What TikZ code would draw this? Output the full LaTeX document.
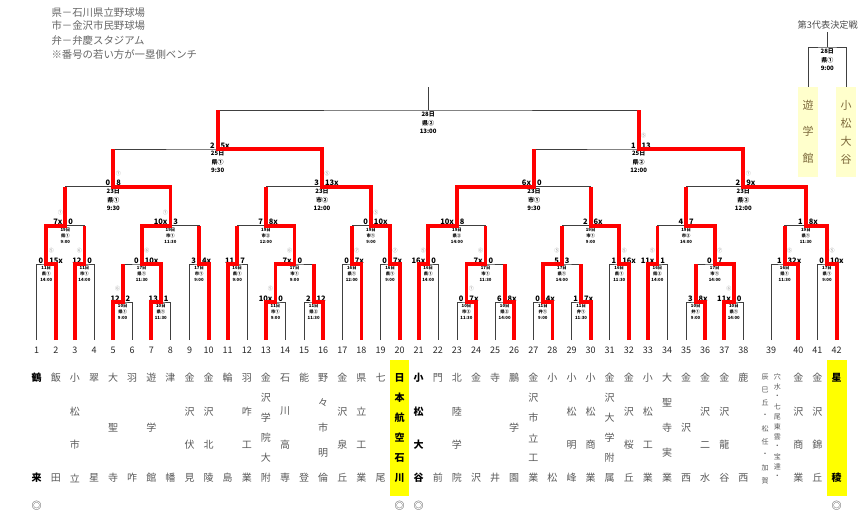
\documentclass[tikz,border=0pt]{standalone}
\usepackage{fontspec}
\setmainfont{Noto Sans CJK JP}
\usetikzlibrary{calc}
\definecolor{hl}{RGB}{255,255,0}
\definecolor{pale}{RGB}{255,255,204}
\definecolor{khaki}{RGB}{125,105,60}

% score of a match: centre, left, right, innings mark, shift of the mark
\newcommand\matchres[5]{%
  \node[score,anchor=south east] (#1-l) at ([xshift=-2.2pt]#1) {#2};
  \node[score,anchor=south west] (#1-r) at ([xshift=2.2pt]#1) {#3};
  \node[inn] (#1-i) at ([xshift=#5pt,yshift=13pt]#1) {#4};}
% team name written downwards under its number
\newcommand\tname[4][nm]{%
  \foreach \ch [count=\k from 0] in {#4}
    \node[#1] (nm#2-\k) at ($(t#2)+(0,{38+100*\k/(#3-1)})$) {\ch};}

\begin{document}
\begin{tikzpicture}[x=1pt,y=-1pt,
    ln/.style={black!75,line width=0.6pt},
    win/.style={red,line width=3.8pt},
    score/.style={font=\fontsize{7.5}{8}\selectfont\bfseries,inner sep=0.6pt},
    inn/.style={font=\fontsize{5}{5}\selectfont,text=black!45,inner sep=0pt},
    info/.style={anchor=north,align=center,inner sep=0pt,
        font=\fontsize{4.3}{6}\selectfont\bfseries},
    infob/.style={anchor=north,align=center,inner sep=0pt,
        font=\fontsize{6}{8.4}\selectfont\bfseries},
    num/.style={font=\fontsize{9}{9}\selectfont,text=black!85},
    nm/.style={font=\fontsize{10}{10}\selectfont,text=black!65},
    nmb/.style={font=\fontsize{10}{10}\selectfont\bfseries,text=black},
    head/.style={anchor=west,font=\fontsize{10.4}{12}\selectfont,text=black!60},
    rep/.style={font=\fontsize{11}{11}\selectfont,text=khaki}]
\useasboundingbox (0,0) rectangle (860,517);

% legend
\node[head] (h1) at (48,12.7) {県－石川県立野球場};
\node[head] (h2) at (48,26) {市－金沢市民野球場};
\node[head] (h3) at (48,40.7) {弁－弁慶スタジアム};
\node[head] (h4) at (48,54.7) {※番号の若い方が一塁側ベンチ};

% teams
\foreach \i in {1,...,38} \coordinate (t\i) at ({36.7+19.1*(\i-1)},340);
\coordinate (t39) at (771,340);
\coordinate (t40) at (798.3,340);
\coordinate (t41) at (817.3,340);
\coordinate (t42) at (836.7,340);

% match centres
\foreach \mc/\x in {a56/122.65,a78/160.85,a1314/275.45,a1516/313.65,a2324/466.45,
    a2526/504.65,a2728/542.85,a2930/581.05,a3536/695.65,a3738/733.85}
  \coordinate (\mc) at (\x,302);
\foreach \mc/\x in {b12/46.25,b34/84.45,b58/141.75,b910/199.05,b1112/237.25,
    b1316/294.55,b1718/351.85,b1920/390.05,b2122/428.25,b2326/485.55,b2730/561.95,
    b3132/619.25,b3334/657.45,b3538/714.75,b3940/784.65,b4142/827}
  \coordinate (\mc) at (\x,264);
\foreach \mc/\x in {c14/65.35,c510/170.4,c1116/265.9,c1720/370.95,c2126/456.9,
    c2732/590.6,c3338/686.1,c3942/805.8}
  \coordinate (\mc) at (\x,225.7);
\foreach \mc/\x in {d110/113.3,d1120/322,d2132/534,d3342/743.3}
  \coordinate (\mc) at (\x,186.7);
\coordinate (e120) at (217.65,149);
\coordinate (e2142) at (638.65,149);
\coordinate (f) at (428.15,110);
\coordinate (ftop) at (428.15,87);

% yellow marks
\fill[hl] (390,360) rectangle (409.3,496);
\fill[hl] (827.3,360) rectangle (846.7,496);

% bracket
\foreach \l/\mc/\r in {t5/a56/t6,t7/a78/t8,t13/a1314/t14,t15/a1516/t16,
    t23/a2324/t24,t25/a2526/t26,t27/a2728/t28,t29/a2930/t30,t35/a3536/t36,
    t37/a3738/t38,
    t1/b12/t2,t3/b34/t4,a56/b58/a78,t9/b910/t10,t11/b1112/t12,a1314/b1316/a1516,
    t17/b1718/t18,t19/b1920/t20,t21/b2122/t22,a2324/b2326/a2526,a2728/b2730/a2930,
    t31/b3132/t32,t33/b3334/t34,a3536/b3538/a3738,t39/b3940/t40,t41/b4142/t42,
    b12/c14/b34,b58/c510/b910,b1112/c1116/b1316,b1718/c1720/b1920,
    b2122/c2126/b2326,b2730/c2732/b3132,b3334/c3338/b3538,b3940/c3942/b4142,
    c14/d110/c510,c1116/d1120/c1720,c2126/d2132/c2732,c3338/d3342/c3942,
    d110/e120/d1120,d2132/e2142/d3342,e120/f/e2142}
  \draw[ln] (\l) |- (\mc) -| (\r);
\draw[ln] (f) -- (ftop);

% scores and dates
\foreach \mc/\lsc/\rsc/\ino/\sh/\txt in {
    a56/12/2/⑥/-5/{10日\\県①\\9:00}, a78/13/1//-5/{10日\\県①\\11:30},
    a1314/10x/0/⑤/-5/{11日\\市①\\9:00}, a1516/2/12//5/{11日\\県②\\11:30},
    a2324/0/7x/⑦/5/{10日\\市②\\11:30}, a2526/6/8x//5/{10日\\県②\\14:00},
    a2728/0/4x//5/{11日\\弁①\\9:00}, a2930/1/7x//5/{11日\\弁①\\11:30},
    a3536/3/8x//5/{10日\\弁①\\9:00}, a3738/11x/0/⑥/-5/{10日\\県①\\14:00},
    b12/0/15x/⑤/5/{11日\\県①\\14:00}, b34/12/0/⑥/-5/{11日\\市①\\14:00},
    b58/0/10x/⑥/5/{17日\\県①\\11:30}, b910/3/4x//5/{17日\\市①\\9:00},
    b1112/11/7//-5/{16日\\県①\\9:00}, b1316/7x/0/⑥/-5/{17日\\市①\\9:00},
    b1718/0/7x/⑦/5/{16日\\県①\\12:00}, b1920/0/7x/⑦/5/{16日\\県①\\9:00},
    b2122/16x/0/⑤/-5/{16日\\県①\\14:00}, b2326/7x/0/⑥/-5/{17日\\市①\\11:30},
    b2730/5/3/⑤/-5/{17日\\県①\\14:00}, b3132/1/16x/⑤/5/{16日\\県①\\11:30},
    b3334/11x/1/⑤/-5/{16日\\県②\\14:00}, b3538/0/7/⑦/5/{17日\\市①\\14:00},
    b3940/1/32x/⑤/5/{16日\\県①\\11:30}, b4142/0/10x/⑤/5/{17日\\県①\\9:00},
    c14/7x/0/⑦/-5/{19日\\県①\\9:00}, c510/10x/3/⑦/-5/{19日\\市①\\11:30},
    c1116/7/8x//5/{19日\\市②\\12:00}, c1720/0/10x/⑤/5/{19日\\市①\\9:00},
    c2126/10x/8//-5/{19日\\県②\\14:00}, c2732/2/6x//5/{19日\\市①\\9:00},
    c3338/4/7//5/{19日\\市②\\14:00}, c3942/1/8x//5/{19日\\県①\\11:30}}
  {\matchres{\mc}{\lsc}{\rsc}{\ino}{\sh}
   \node[info] (\mc-t) at ([yshift=-2pt]\mc) {\txt};}
\foreach \mc/\lsc/\rsc/\ino/\sh/\txt in {
    d110/0/8/⑦/5/{23日\\県①\\9:30}, d1120/3/13x/⑤/5/{23日\\市②\\12:00},
    d2132/6x/0//-5/{23日\\市①\\9:30}, d3342/2/9x/⑦/5/{23日\\県②\\12:00},
    e120/2/5x//5/{25日\\県①\\9:30}, e2142/1/13/⑤/5/{25日\\県②\\12:00}}
  {\matchres{\mc}{\lsc}{\rsc}{\ino}{\sh}
   \node[infob] (\mc-t) at ([yshift=-2pt]\mc) {\txt};}
\node[infob] (f-t) at ([yshift=-2pt]f) {28日\\県②\\13:00};

% winners
\draw[win] (t2) |- (b12) |- (c14) -- (c14 |- d110);
\draw[win] (t3) |- (b34) -- (b34 |- c14);
\draw[win] (t5) |- (a56) -- (a56 |- b58);
\draw[win] (t7) |- (a78) |- (b58) |- (c510) |- (d110) -- (d110 |- e120);
\draw[win] (t10) |- (b910) -- (b910 |- c510);
\draw[win] (t11) |- (b1112) -- (b1112 |- c1116);
\draw[win] (t13) |- (a1314) |- (b1316) |- (c1116) -- (c1116 |- d1120);
\draw[win] (t16) |- (a1516) -- (a1516 |- b1316);
\draw[win] (t18) |- (b1718) -- (b1718 |- c1720);
\draw[win] (t20) |- (b1920) |- (c1720) |- (d1120) |- (e120) -- (e120 |- f);
\draw[win] (t21) |- (b2122) |- (c2126) |- (d2132) -- (d2132 |- e2142);
\draw[win] (t24) |- (a2324) |- (b2326) -- (b2326 |- c2126);
\draw[win] (t26) |- (a2526) -- (a2526 |- b2326);
\draw[win] (t28) |- (a2728) |- (b2730) -- (b2730 |- c2732);
\draw[win] (t30) |- (a2930) -- (a2930 |- b2730);
\draw[win] (t32) |- (b3132) |- (c2732) -- (c2732 |- d2132);
\draw[win] (t33) |- (b3334) -- (b3334 |- c3338);
\draw[win] (t36) |- (a3536) -- (a3536 |- b3538);
\draw[win] (t37) |- (a3738) |- (b3538) |- (c3338) -- (c3338 |- d3342);
\draw[win] (t40) |- (b3940) -- (b3940 |- c3942);
\draw[win] (t42) |- (b4142) |- (c3942) |- (d3342) |- (e2142) -- (e2142 |- f);

% numbers and names
\foreach \i in {1,...,42} \node[num] (n\i) at ([yshift=-10pt]t\i) {\i};
\tname[nmb]{1}{2}{鶴,来}
\tname{2}{2}{飯,田}
\tname{3}{4}{小,松,市,立}
\tname{4}{2}{翠,星}
\tname{5}{3}{大,聖,寺}
\tname{6}{2}{羽,咋}
\tname{7}{3}{遊,学,館}
\tname{8}{2}{津,幡}
\tname{9}{4}{金,沢,伏,見}
\tname{10}{4}{金,沢,北,陵}
\tname{11}{2}{輪,島}
\tname{12}{4}{羽,咋,工,業}
\tname{13}{6}{金,沢,学,院,大,附}
\tname{14}{4}{石,川,高,専}
\tname{15}{2}{能,登}
\tname{16}{5}{野,々,市,明,倫}
\tname{17}{4}{金,沢,泉,丘}
\tname{18}{4}{県,立,工,業}
\tname{19}{2}{七,尾}
\tname[nmb]{20}{6}{日,本,航,空,石,川}
\tname[nmb]{21}{4}{小,松,大,谷}
\tname{22}{2}{門,前}
\tname{23}{4}{北,陸,学,院}
\tname{24}{2}{金,沢}
\tname{25}{2}{寺,井}
\tname{26}{3}{鵬,学,園}
\tname{27}{6}{金,沢,市,立,工,業}
\tname{28}{2}{小,松}
\tname{29}{4}{小,松,明,峰}
\tname{30}{4}{小,松,商,業}
\tname{31}{6}{金,沢,大,学,附,属}
\tname{32}{4}{金,沢,桜,丘}
\tname{33}{4}{小,松,工,業}
\tname{34}{5}{大,聖,寺,実,業}
\tname{35}{3}{金,沢,西}
\tname{36}{4}{金,沢,二,水}
\tname{37}{4}{金,沢,龍,谷}
\tname{38}{2}{鹿,西}
\tname{40}{4}{金,沢,商,業}
\tname{41}{4}{金,沢,錦,丘}
\tname[nmb]{42}{2}{星,稜}
% joint team
\foreach \ch [count=\k from 0] in {穴,水,・,七,尾,東,雲,・,宝,達,・}
  \node[nm,font=\fontsize{7}{7}\selectfont] (u39-\k) at (777.3,{377+10*\k}) {\ch};
\foreach \ch [count=\k from 0] in {辰,巳,丘,・,松,任,・,加,賀}
  \node[nm,font=\fontsize{7}{7}\selectfont] (v39-\k) at (765,{377+13*\k}) {\ch};
\foreach \i in {1,20,21,42}
  \node[nm,text=black!80] (mk\i) at ($(t\i)+(0,165.7)$) {◎};

% playoff for the third place
\coordinate (g) at (827.3,47);
\coordinate (gtop) at (827.3,32);
\coordinate (g1) at (808,87.3);
\coordinate (g2) at (846,87.3);
\node[font=\fontsize{9.2}{10}\selectfont,text=black!70] (ttl) at (827.7,25) {第3代表決定戦};
\draw[ln] (g1) |- (g) -| (g2);
\draw[ln] (g) -- (gtop);
\node[infob] (g-t) at ([yshift=-2pt]g) {28日\\県①\\9:00};
\fill[pale] (798.3,87.3) rectangle (817.7,177);
\fill[pale] (836,87.3) rectangle (855.7,177);
\node[rep] (r1) at (808,105.7) {遊};
\node[rep] (r2) at (808,131.7) {学};
\node[rep] (r3) at (808,158.3) {館};
\node[rep] (s1) at (846,105.7) {小};
\node[rep] (s2) at (846,123) {松};
\node[rep] (s3) at (846,141) {大};
\node[rep] (s4) at (846,159) {谷};

\end{tikzpicture}
\end{document}
